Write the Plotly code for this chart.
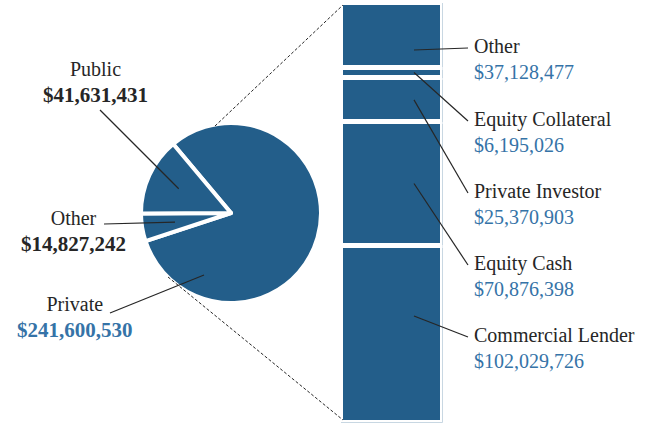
import math
import plotly.graph_objects as go

# ---- data ----
pie_labels = ["Private", "Other", "Public"]
pie_values = [241600530, 14827242, 41631431]

bar_labels = ["Commercial Lender", "Equity Cash", "Private Investor", "Equity Collateral", "Other"]
bar_values = [102029726, 70876398, 25370903, 6195026, 37128477]

W, H = 654, 423
BLUE = "#235E8A"
VAL_BLUE = "#3573A7"
DARK = "#262626"
FONT = "Liberation Serif"

def px(x):
    return x / W

def py(y):
    return 1 - y / H

fig = go.Figure()

# pie geometry (pixels)
cx, cy, R = 231, 213, 90
rotation = -40
fig.add_trace(go.Pie(
    labels=pie_labels, values=pie_values, sort=False, direction="clockwise",
    rotation=rotation, textinfo="none", hoverinfo="skip",
    marker=dict(colors=[BLUE] * 3, line=dict(color="white", width=4)),
    domain=dict(x=[px(cx - R), px(cx + R)], y=[py(cy + R), py(cy - R)]),
    showlegend=False,
))

# stacked bar
for lab, v in zip(bar_labels, bar_values):
    fig.add_trace(go.Bar(
        x=[0], y=[v], width=1, name=lab, hoverinfo="skip",
        marker=dict(color=BLUE, line=dict(color="white", width=5)),
        xaxis="x2", yaxis="y2", showlegend=False,
    ))

bar_total = sum(bar_values)
bx0, bx1, by_top, by_bot = 340.5, 442.5, 2.5, 422.5
fig.update_layout(
    width=W, height=H, margin=dict(l=0, r=0, t=0, b=0),
    paper_bgcolor="white", plot_bgcolor="white", barmode="stack",
    xaxis2=dict(domain=[px(bx0), px(bx1)], range=[-0.5, 0.5], visible=False, anchor="y2"),
    yaxis2=dict(domain=[py(by_bot), py(by_top)], range=[0, bar_total], visible=False, anchor="x2"),
    xaxis=dict(visible=False), yaxis=dict(visible=False),
)

shapes = []
ann = []

def line(x0, y0, x1, y1, dash="solid", width=1.2):
    shapes.append(dict(type="line", xref="paper", yref="paper",
                       x0=px(x0), y0=py(y0), x1=px(x1), y1=py(y1),
                       line=dict(color=DARK, width=width, dash=dash)))

# dashed lines pie -> bar
line(215, 126, 343, 5, "3px,2px", 1)
line(168, 277, 343, 420, "3px,2px", 1)

# pie slice mid points from data
tot = sum(pie_values)
start = 90 - rotation
mids = {}
for lab, v in zip(pie_labels, pie_values):
    end = start - 360 * v / tot
    mids[lab] = (start + end) / 2
    start = end

def pie_pt(angle_deg, rf):
    a = math.radians(angle_deg)
    return cx + rf * R * math.cos(a), cy - rf * R * math.sin(a)

pub = pie_pt(mids["Public"], 0.64)
oth = pie_pt(mids["Other"], 0.63)
line(100, 110, *pub)
line(104, 224, *oth)
line(110, 313, 204, 275)

def fmt(v):
    return "${:,}".format(v)

left = [("Public", 95, 82, DARK), ("Other", 73, 231, DARK), ("Private", 75, 317, VAL_BLUE)]
for lab, x, y, vc in left:
    v = pie_values[pie_labels.index(lab)]
    ann.append(dict(
        x=px(x), y=py(y), xref="paper", yref="paper", xanchor="center", yanchor="middle",
        showarrow=False, align="center",
        text=f"<span style='color:{DARK}'>{lab}</span><br><b><span style='color:{vc};font-size:21px'>{fmt(v)}</span></b>",
        font=dict(family=FONT, size=20, color=DARK),
    ))

# right labels
label_y = {"Other": 59, "Equity Collateral": 132, "Private Investor": 204,
           "Equity Cash": 276, "Commercial Lender": 348}
bar_anchor_y = {"Other": 50, "Commercial Lender": 316}
cum = 0
for lab, v in zip(bar_labels, bar_values):
    mid = cum + v / 2
    cum += v
    ypix = by_bot - (by_bot - by_top) * mid / bar_total
    ypix = bar_anchor_y.get(lab, ypix)
    ly = label_y[lab]
    line(414, ypix, 468, ly - 11)
    ann.append(dict(
        x=px(472), y=py(ly), xref="paper", yref="paper", xanchor="left", yanchor="middle",
        showarrow=False, align="left",
        text=f"<span style='color:{DARK}'>{lab}</span><br><span style='color:{VAL_BLUE}'>{fmt(v)}</span>",
        font=dict(family=FONT, size=20, color=DARK),
    ))

fig.update_layout(shapes=shapes, annotations=ann)
fig.write_html("out.html", config={"displayModeBar": False},
               post_script="document.body.style.margin='0px';")
